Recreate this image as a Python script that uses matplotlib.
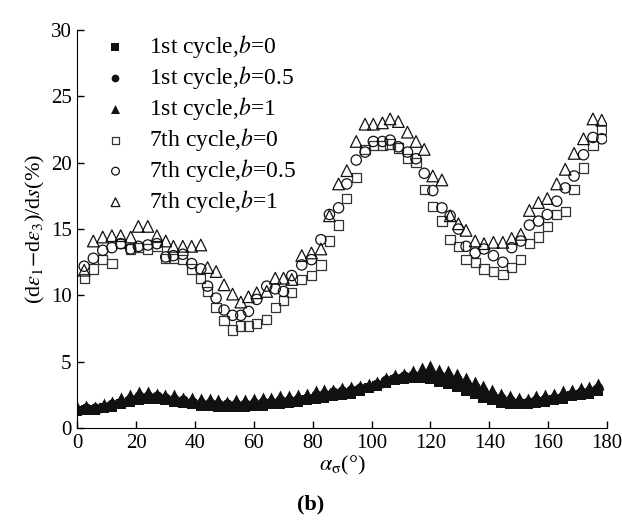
import matplotlib
matplotlib.use("Agg")
from matplotlib import pyplot as plt

plt.rcParams['font.family'] = ['Liberation Serif', 'DejaVu Serif']
plt.rcParams['mathtext.fontset'] = 'stix'

# 1st cycle
angle_1st = [0, 3, 6, 9, 12, 15, 18, 21, 24, 27, 30, 33, 36, 39, 42, 45, 48, 51, 54, 57,
             60, 63, 66, 69, 72, 75, 78, 81, 84, 87, 90, 93, 96, 99, 102, 105, 108, 111, 114, 117,
             120, 123, 126, 129, 132, 135, 138, 141, 144, 147, 150, 153, 156, 159, 162, 165, 168, 171, 174, 177]
first_b0 = [1.3, 1.4, 1.4, 1.5, 1.6, 1.8, 2.0, 2.1, 2.2, 2.2, 2.1, 2.0, 1.9, 1.8, 1.7, 1.7, 1.6, 1.6, 1.6, 1.6,
            1.7, 1.7, 1.8, 1.8, 1.9, 2.0, 2.1, 2.2, 2.3, 2.4, 2.5, 2.6, 2.8, 3.0, 3.2, 3.4, 3.6, 3.7, 3.8, 3.8,
            3.7, 3.5, 3.3, 3.1, 2.8, 2.6, 2.3, 2.1, 1.9, 1.8, 1.8, 1.8, 1.9, 2.0, 2.1, 2.2, 2.4, 2.5, 2.6, 2.8]
first_b05 = [1.4, 1.5, 1.5, 1.6, 1.8, 2.0, 2.2, 2.4, 2.4, 2.4, 2.3, 2.2, 2.1, 2.0, 1.9, 1.9, 1.8, 1.8, 1.8, 1.8,
             1.9, 2.0, 2.0, 2.1, 2.1, 2.2, 2.3, 2.5, 2.6, 2.7, 2.8, 2.9, 3.0, 3.1, 3.3, 3.6, 3.8, 3.9, 4.0, 4.1,
             4.1, 4.0, 3.9, 3.7, 3.4, 3.1, 2.8, 2.5, 2.3, 2.1, 2.0, 2.0, 2.1, 2.2, 2.3, 2.4, 2.6, 2.7, 2.8, 3.0]
first_b1 = [1.6, 1.7, 1.6, 1.8, 2.0, 2.3, 2.5, 2.7, 2.7, 2.6, 2.5, 2.5, 2.3, 2.3, 2.2, 2.2, 2.1, 2.0, 2.1, 2.1,
            2.2, 2.3, 2.3, 2.4, 2.4, 2.5, 2.6, 2.8, 2.9, 2.9, 3.0, 3.1, 3.2, 3.3, 3.5, 3.8, 4.0, 4.1, 4.3, 4.5,
            4.7, 4.4, 4.3, 4.1, 3.8, 3.5, 3.2, 2.9, 2.6, 2.4, 2.3, 2.2, 2.4, 2.5, 2.6, 2.8, 2.9, 3.0, 3.1, 3.3]

# 7th cycle
angle_7th = [2.4, 5.5, 8.7, 11.8, 14.8, 18.2, 20.8, 24.0, 27.1, 30.1, 32.7, 35.9, 38.9, 42.0, 44.3,
             47.2, 49.9, 52.8, 55.6, 58.2, 61.0, 64.4, 67.3, 70.1, 72.9, 76.3, 79.6, 82.8, 85.7, 88.8,
             91.6, 94.8, 97.8, 100.6, 103.7, 106.3, 109.1, 112.2, 115.1, 117.9, 120.8, 123.9, 126.7, 129.5, 132.1,
             135.2, 138.2, 141.4, 144.6, 147.6, 150.7, 153.6, 156.7, 159.7, 162.9, 165.8, 168.8, 172.0, 175.2, 178.2]
seventh_b0 = [11.3, 12.0, 12.7, 12.4, 13.9, 13.5, 13.6, 13.5, 13.7, 12.8, 12.8, 12.7, 12.0, 11.3, 10.3,
              9.1, 8.1, 7.4, 7.7, 7.7, 7.9, 8.2, 9.1, 9.6, 10.2, 11.2, 11.5, 12.3, 14.1, 15.3,
              17.3, 18.9, 21.0, 21.3, 21.3, 21.4, 21.1, 20.3, 20.0, 18.0, 16.7, 15.6, 14.2, 13.7, 12.7,
              12.5, 12.0, 11.8, 11.6, 12.1, 12.7, 13.9, 14.4, 15.2, 16.1, 16.3, 18.0, 19.6, 21.3, 22.5]
seventh_b05 = [12.2, 12.8, 13.4, 13.6, 13.9, 13.5, 13.7, 13.8, 13.9, 12.9, 13.0, 13.1, 12.4, 12.0, 10.7,
               9.8, 8.9, 8.5, 8.5, 8.8, 9.7, 10.7, 10.5, 10.3, 11.5, 12.3, 12.7, 14.2, 16.1, 16.6,
               18.4, 20.2, 20.8, 21.6, 21.6, 21.7, 21.2, 20.8, 20.3, 19.2, 17.9, 16.6, 16.0, 15.0, 13.7,
               13.2, 13.5, 13.0, 12.5, 13.6, 14.1, 15.3, 15.6, 16.1, 17.1, 18.1, 19.0, 20.6, 21.9, 21.8]
seventh_b1 = [11.9, 14.1, 14.4, 14.5, 14.5, 14.4, 15.2, 15.2, 14.5, 14.1, 13.7, 13.7, 13.7, 13.8, 12.1,
              11.8, 10.8, 10.1, 9.5, 9.9, 10.2, 10.3, 11.3, 11.3, 11.2, 13.0, 13.2, 13.5, 16.0, 18.4,
              19.4, 21.6, 22.9, 22.9, 23.0, 23.3, 23.1, 22.3, 21.6, 21.0, 19.0, 18.7, 16.0, 15.4, 14.9,
              14.1, 13.9, 14.0, 14.0, 14.3, 14.6, 16.4, 17.0, 17.3, 18.4, 19.5, 20.7, 21.8, 23.3, 23.2]

fig = plt.figure(figsize=(6.22, 5.26), dpi=100)
ax = fig.add_axes([0.124, 0.186, 0.852, 0.757])

ax.scatter(angle_1st, first_b0, marker='s', s=50, color='#111111', linewidths=0, label='1st cycle,$b$=0')
ax.scatter(angle_1st, first_b05, marker='o', s=55, color='#111111', linewidths=0, label='1st cycle,$b$=0.5')
ax.scatter(angle_1st, first_b1, marker='^', s=75, color='#111111', linewidths=0, label='1st cycle,$b$=1')
ax.scatter(angle_7th, seventh_b0, marker='s', s=45, facecolors='none', edgecolors='#333333', linewidths=0.9,
           label='7th cycle,$b$=0')
ax.scatter(angle_7th, seventh_b05, marker='o', s=55, facecolors='none', edgecolors='#111111', linewidths=0.9,
           label='7th cycle,$b$=0.5')
ax.scatter(angle_7th, seventh_b1, marker='^', s=70, facecolors='none', edgecolors='#111111', linewidths=0.9,
           label='7th cycle,$b$=1')

ax.set_xlim(0, 180)
ax.set_ylim(0, 30)
ax.set_xticks(range(0, 181, 20))
ax.set_yticks(range(0, 31, 5))
ax.spines['top'].set_visible(False)
ax.spines['right'].set_visible(False)
ax.tick_params(direction='in', length=5, width=1, labelsize=15, pad=4)

ax.set_xlabel(r'$\alpha_{\mathrm{\sigma}}$(°)', fontsize=16, labelpad=1)
ax.set_ylabel(r'(d$\varepsilon_{1}$$-$d$\varepsilon_{3}$)/d$s$(%)', fontsize=16, labelpad=3)

ax.legend(loc='upper left', bbox_to_anchor=(0.0, 1.045), frameon=False, fontsize=17,
          handlelength=1.45, handletextpad=0.7, labelspacing=0.17, borderpad=0.4,
          scatterpoints=1, markerscale=0.75)

fig.text(0.5, 0.04, '(b)', ha='center', va='center', fontsize=16, fontweight='bold')

plt.savefig('out.png', dpi=100)
